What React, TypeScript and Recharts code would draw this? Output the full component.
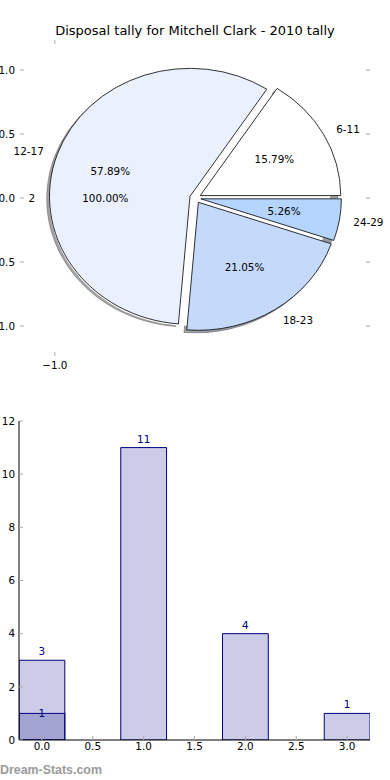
import React from 'react';
import { PieChart, Pie, BarChart, Bar, XAxis, YAxis, LabelList } from 'recharts';

// ---- data ----
const pieNames = ['6-11', '12-17', '18-23', '24-29'];
const pieValues = [3, 11, 4, 1];
const pieColors = ['#ffffff', '#eaf0fc', '#c5d9fb', '#b4d5fe'];
const overlayNames = ['2'];
const overlayValues = [1];
const overlayColors = ['#ffffff'];

const barX = [0, 1, 2, 3];
const barValues = [3, 11, 4, 1];
const overlayBarValues: (number | null)[] = [1, null, null, null];

const pieYTicks = [1.0, 0.5, 0.0, -0.5, -1.0];
const pieXTicks = [-1.0];
const barXTicks = [0, 0.5, 1, 1.5, 2, 2.5, 3];
const barYTicks = [0, 2, 4, 6, 8, 10, 12];

const TITLE = 'Disposal tally for Mitchell Clark - 2010 tally';
const WATERMARK = 'Dream-Stats.com';

// ---- layout constants ----
const FONT = '"DejaVu Sans", sans-serif';
const FS = 10.4;
const CX = 195.3;
const CY = 198;
const RY = 128; // px per data unit vertically
const RX = 140.5; // px per data unit horizontally
const ASPECT = RX / RY;
const EXPLODE = 0.04;
const LABEL_DIST = 1.1;
const PCT_DIST = 0.6;
const NAVY = '#000080';

const pieData = pieNames.map((name, i) => ({ name, value: pieValues[i], fill: pieColors[i] }));
const overlayData = overlayNames.map((name, i) => ({ name, value: overlayValues[i], fill: overlayColors[i] }));
const barData = barX.map((x, i) => ({ x, v: barValues[i], o: overlayBarValues[i] }));

const rad = Math.PI / 180;

function wedgePath(p: any, dx = 0, dy = 0) {
  const ry = p.outerRadius;
  const rx = ry * ASPECT;
  const m = p.midAngle * rad;
  const ox = p.cx + EXPLODE * rx * Math.cos(m) + dx;
  const oy = p.cy - EXPLODE * ry * Math.sin(m) + dy;
  const s = p.startAngle * rad;
  const e = p.endAngle * rad;
  const delta = Math.abs(p.endAngle - p.startAngle);
  if (delta >= 359.999) {
    return `M${ox + rx},${oy} A${rx},${ry} 0 1 0 ${ox - rx},${oy} A${rx},${ry} 0 1 0 ${ox + rx},${oy} Z`;
  }
  const x1 = ox + rx * Math.cos(s);
  const y1 = oy - ry * Math.sin(s);
  const x2 = ox + rx * Math.cos(e);
  const y2 = oy - ry * Math.sin(e);
  const large = delta > 180 ? 1 : 0;
  const sweep = p.endAngle > p.startAngle ? 0 : 1;
  return `M${ox},${oy} L${x1},${y1} A${rx},${ry} 0 ${large} ${sweep} ${x2},${y2} Z`;
}

function shade(hex: string) {
  const n = parseInt(hex.slice(1), 16);
  const r = Math.round(((n >> 16) & 255) * 0.3);
  const g = Math.round(((n >> 8) & 255) * 0.3);
  const b = Math.round((n & 255) * 0.3);
  return `rgb(${r},${g},${b})`;
}

const ShadowShape = (p: any) => {
  const c = shade(p.payload?.fill || p.fill || '#ffffff');
  return <path d={wedgePath(p, -0.02 * RX, 0.02 * RY)} fill={c} fillOpacity={0.5} stroke={c} strokeOpacity={0.5} strokeWidth={0.8} />;
};
const WedgeShape = (p: any) => (
  <path d={wedgePath(p)} fill={p.payload?.fill || p.fill} stroke="#000" strokeWidth={0.8} strokeLinejoin="miter" />
);
const PlainShape = (p: any) => <path d={wedgePath(p)} fill={p.payload?.fill || p.fill} stroke="none" />;
const EmptyShape = () => <g />;

const renderPieLabel = (p: any) => {
  const ry = p.outerRadius;
  const rx = ry * ASPECT;
  const m = p.midAngle * rad;
  const ox = p.cx + EXPLODE * rx * Math.cos(m);
  const oy = p.cy - EXPLODE * ry * Math.sin(m);
  const lx = ox + LABEL_DIST * rx * Math.cos(m);
  const ly = oy - LABEL_DIST * ry * Math.sin(m);
  const px = ox + PCT_DIST * rx * Math.cos(m);
  const py = oy - PCT_DIST * ry * Math.sin(m);
  return (
    <g key={`lbl-${p.index}-${p.name}`}>
      <text x={lx} y={ly} textAnchor={lx - p.cx > 0 ? 'start' : 'end'} dominantBaseline="central" fontFamily={FONT} fontSize={FS} fill="#000">
        {p.name}
      </text>
      <text x={px} y={py} textAnchor="middle" dominantBaseline="central" fontFamily={FONT} fontSize={FS} fill="#000">
        {(p.percent * 100).toFixed(2)}%
      </text>
    </g>
  );
};

const fmtTick = (v: number) => (v < 0 ? '\u2212' : '') + Math.abs(v).toFixed(1);

const pieCommon = {
  dataKey: 'value',
  nameKey: 'name',
  cx: CX,
  cy: CY,
  outerRadius: RY,
  startAngle: 0,
  endAngle: 360,
  isAnimationActive: false,
  labelLine: false,
};

export default function App() {
  return (
    <div style={{ position: 'absolute', left: 0, top: 0, width: 390, height: 780, background: '#fff', overflow: 'hidden' }}>
      <div style={{ position: 'absolute', left: 0, top: 0 }}>
        <PieChart width={390} height={400} margin={{ top: 0, right: 0, bottom: 0, left: 0 }}>
          {/* shadows of the main pie (lowest layer) */}
          <Pie {...pieCommon} data={pieData} shape={ShadowShape} inactiveShape={ShadowShape} label={false} stroke="none" />
          {/* second single-slice pie, drawn before the main wedges */}
          <Pie {...pieCommon} data={overlayData} shape={PlainShape} inactiveShape={PlainShape} label={false} stroke="none" />
          {/* main pie */}
          <Pie {...pieCommon} data={pieData} shape={WedgeShape} inactiveShape={WedgeShape} label={renderPieLabel} stroke="#000" />
          {/* labels of the second pie, on top */}
          <Pie {...pieCommon} data={overlayData} shape={EmptyShape} inactiveShape={EmptyShape} fill="none" stroke="none" label={renderPieLabel} />
        </PieChart>
      </div>
      <svg width={390} height={780} style={{ position: 'absolute', left: 0, top: 0, pointerEvents: 'none' }}>
        <text x={195} y={30} textAnchor="middle" dominantBaseline="central" fontFamily={FONT} fontSize={13} fill="#000">
          {TITLE}
        </text>
        {pieYTicks.map((v) => (
          <g key={`py${v}`}>
            <line x1={20} x2={24} y1={CY - v * RY} y2={CY - v * RY} stroke="#aaa" strokeWidth={1} />
            <line x1={366} x2={370} y1={CY - v * RY} y2={CY - v * RY} stroke="#aaa" strokeWidth={1} />
            <text x={15} y={CY - v * RY} textAnchor="end" dominantBaseline="central" fontFamily={FONT} fontSize={FS} fill="#000">
              {fmtTick(v)}
            </text>
          </g>
        ))}
        {pieXTicks.map((v) => (
          <g key={`px${v}`}>
            <line x1={CX + v * RX} x2={CX + v * RX} y1={40} y2={44} stroke="#aaa" strokeWidth={1} />
            <line x1={CX + v * RX} x2={CX + v * RX} y1={352} y2={356} stroke="#aaa" strokeWidth={1} />
            <text x={CX + v * RX} y={365} textAnchor="middle" dominantBaseline="central" fontFamily={FONT} fontSize={FS} fill="#000">
              {fmtTick(v)}
            </text>
          </g>
        ))}
        <text x={0} y={774} fontFamily='"Liberation Sans", Arial, sans-serif' fontWeight="bold" fontSize={12.4} fill="#9a9a9a">
          {WATERMARK}
        </text>
      </svg>
      <div style={{ position: 'absolute', left: 0, top: 390 }}>
        <BarChart width={390} height={390} data={barData} margin={{ top: 31, right: 20, bottom: 20, left: 0 }}>
          <XAxis
            xAxisId="b"
            dataKey="x"
            type="number"
            domain={[-0.225, 3.225]}
            allowDataOverflow
            ticks={barXTicks}
            tickFormatter={(v: number) => v.toFixed(1)}
            height={20}
            tickSize={-4}
            tickMargin={7}
            axisLine={{ stroke: '#000' }}
            tickLine={{ stroke: '#aaa' }}
            tick={{ fill: '#000', fontSize: FS, fontFamily: FONT }}
            interval={0}
          />
          <XAxis
            xAxisId="t"
            dataKey="x"
            type="number"
            orientation="top"
            domain={[-0.225, 3.225]}
            allowDataOverflow
            ticks={barXTicks}
            tickFormatter={() => ''}
            height={0}
            tickSize={-4}
            tickMargin={0}
            axisLine={{ stroke: '#000' }}
            tickLine={{ stroke: '#aaa' }}
            interval={0}
          />
          <YAxis
            yAxisId="l"
            type="number"
            domain={[0, 12]}
            allowDataOverflow
            ticks={barYTicks}
            width={19}
            tickSize={-4}
            tickMargin={8}
            axisLine={{ stroke: '#000' }}
            tickLine={{ stroke: '#aaa' }}
            tick={{ fill: '#000', fontSize: FS, fontFamily: FONT }}
            interval={0}
          />
          <YAxis
            yAxisId="r"
            type="number"
            orientation="right"
            domain={[0, 12]}
            allowDataOverflow
            ticks={barYTicks}
            width={0}
            tickSize={-4}
            tickMargin={0}
            tickFormatter={() => ''}
            axisLine={{ stroke: '#000' }}
            tickLine={{ stroke: '#aaa' }}
            interval={0}
          />
          <Bar xAxisId="b" yAxisId="l" dataKey="v" barSize={45.8} fill={NAVY} fillOpacity={0.2} stroke={NAVY} strokeWidth={1} isAnimationActive={false}>
            <LabelList dataKey="v" position="top" offset={5} fill={NAVY} fontSize={FS} fontFamily={FONT} />
          </Bar>
          <Bar xAxisId="t" yAxisId="l" dataKey="o" barSize={45.8} fill={NAVY} fillOpacity={0.2} stroke={NAVY} strokeWidth={1} isAnimationActive={false}>
            <LabelList dataKey="o" position="top" offset={-4} fill={NAVY} fontSize={FS} fontFamily={FONT} />
          </Bar>
        </BarChart>
      </div>
    </div>
  );
}
